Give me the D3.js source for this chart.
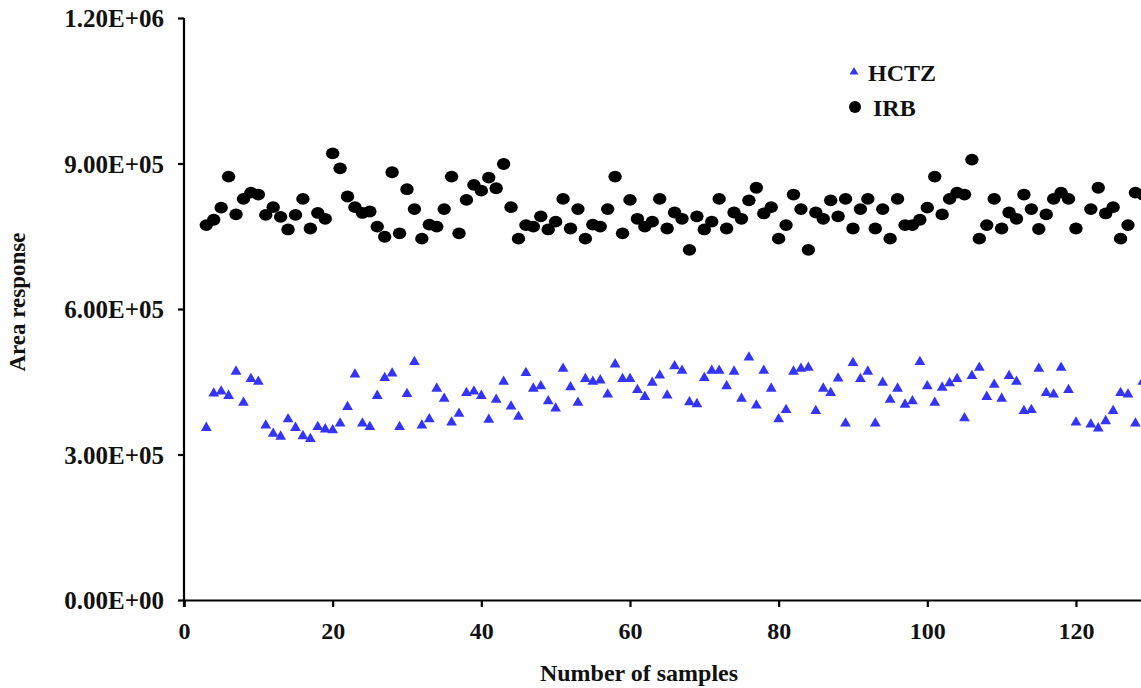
<!DOCTYPE html>
<html>
<head>
<meta charset="utf-8">
<script src="https://cdn.jsdelivr.net/npm/d3@7"></script>
<style>
  body { margin: 0; background: #fff; }
  svg { display: block; }
  text { font-family: "Liberation Serif", "Times New Roman", serif; font-weight: bold; fill: #111; }
</style>
</head>
<body>
<div id="chart"></div>
<script>
// sample index on x axis
var samples = [3,4,5,6,7,8,9,10,11,12,13,14,15,16,17,18,19,20,21,22,23,24,25,26,27,28,29,30,
  31,32,33,34,35,36,37,38,39,40,41,42,43,44,45,46,47,48,49,50,51,52,53,54,55,56,57,58,59,60,
  61,62,63,64,65,66,67,68,69,70,71,72,73,74,75,76,77,78,79,80,81,82,83,84,85,86,87,88,89,90,
  91,92,93,94,95,96,97,98,99,100,101,102,103,104,105,106,107,108,109,110,111,112,113,114,115,
  116,117,118,119,120,121,122,123,124,125,126,127,128,129];

// area response, thousands (null = not read)
var hctz = [355,426,430,421,471,407,456,450,360,343,337,373,355,338,332,357,352,350,364,398,
  465,364,357,421,458,467,357,425,491,360,373,436,415,366,384,427,430,421,372,413,450,399,378,
  468,436,441,410,395,477,439,407,456,450,453,424,486,456,456,433,419,448,463,422,482,473,408,
  404,458,473,473,441,471,415,500,401,473,436,373,392,471,477,479,390,436,427,457,364,489,456,
  471,364,448,413,436,403,410,491,441,407,438,447,456,375,462,479,419,444,415,462,450,390,392,
  477,427,424,479,433,366,null,362,354,369,390,427,424,364,450];

var irb = [773,784,809,873,795,827,840,836,794,810,790,764,794,827,766,798,786,921,890,832,
  810,798,801,770,749,882,756,847,806,745,774,770,806,873,756,825,856,844,871,849,899,810,745,
  773,770,791,764,780,827,766,806,745,774,770,806,873,756,825,786,770,780,827,766,799,786,722,
  791,764,780,827,766,799,786,824,850,797,810,745,773,836,806,722,799,786,824,791,827,766,806,
  827,766,806,745,827,773,773,784,809,873,795,827,840,836,908,745,773,827,766,799,786,836,806,
  765,795,827,840,827,766,null,806,850,797,810,745,773,840,836];

var yTicks = [0, 300000, 600000, 900000, 1200000];
var xTicks = [0, 20, 40, 60, 80, 100, 120];
var seriesNames = ["HCTZ", "IRB"];

var W = 1141, H = 688;
var svg = d3.select("#chart").append("svg").attr("width", W).attr("height", H);

var x = d3.scaleLinear().domain([0, 140]).range([184, 184 + 140 * 7.433]);
var y = d3.scaleLinear().domain([0, 1200000]).range([600, 18]);

function pts(vals) {
  var out = [];
  for (var i = 0; i < samples.length; i++) {
    if (vals[i] != null) out.push({n: samples[i], v: vals[i] * 1000});
  }
  return out;
}

// axes
var yAxis = d3.axisLeft(y).tickValues(yTicks).tickSize(6).tickPadding(14)
  .tickFormat(function(d) { return d.toExponential(2).toUpperCase().replace(/E([+-])(\d)$/, "E$10$2"); });
var gy = svg.append("g").attr("transform", "translate(" + x(0) + ",0)").call(yAxis);
gy.selectAll("text").style("font-size", "25px").attr("dy", "0.35em");

var xAxis = d3.axisBottom(x).tickValues(xTicks).tickSize(7).tickPadding(15);
var gx = svg.append("g").attr("transform", "translate(0," + y(0) + ")").call(xAxis);
gx.selectAll("text").style("font-size", "24px");

svg.selectAll(".domain, .tick line").attr("stroke", "#000").attr("stroke-width", 2.2);
gy.select(".domain").attr("d", "M0," + (y(0) + 7) + "V" + y(1200000));

// HCTZ triangles
var tri = d3.symbol().type(d3.symbolTriangle).size(50);
svg.append("g").selectAll("path").data(pts(hctz)).enter().append("path")
  .attr("d", tri)
  .attr("transform", function(d) { return "translate(" + x(d.n) + "," + y(d.v) + ")"; })
  .attr("fill", "#3434f6");

// IRB dots
svg.append("g").selectAll("ellipse").data(pts(irb)).enter().append("ellipse")
  .attr("cx", function(d) { return x(d.n); })
  .attr("cy", function(d) { return y(d.v); })
  .attr("rx", 6.7).attr("ry", 5.9)
  .attr("fill", "#000");

// titles
svg.append("text").attr("x", 639).attr("y", 681).attr("text-anchor", "middle")
  .style("font-size", "24px").text("Number of samples");
svg.append("text").attr("transform", "translate(25,302) rotate(-90)").attr("text-anchor", "middle")
  .style("font-size", "23px").text("Area response");

// legend
var lg = svg.append("g");
lg.append("path").attr("d", d3.symbol().type(d3.symbolTriangle).size(34))
  .attr("transform", "translate(854,72)").attr("fill", "#3434f6");
lg.append("circle").attr("cx", 855).attr("cy", 107).attr("r", 6).attr("fill", "#000");
lg.append("text").attr("x", 868).attr("y", 81).style("font-size", "24px").text(seriesNames[0]);
lg.append("text").attr("x", 873).attr("y", 116).style("font-size", "24px").text(seriesNames[1]);
</script>
</body>
</html>
